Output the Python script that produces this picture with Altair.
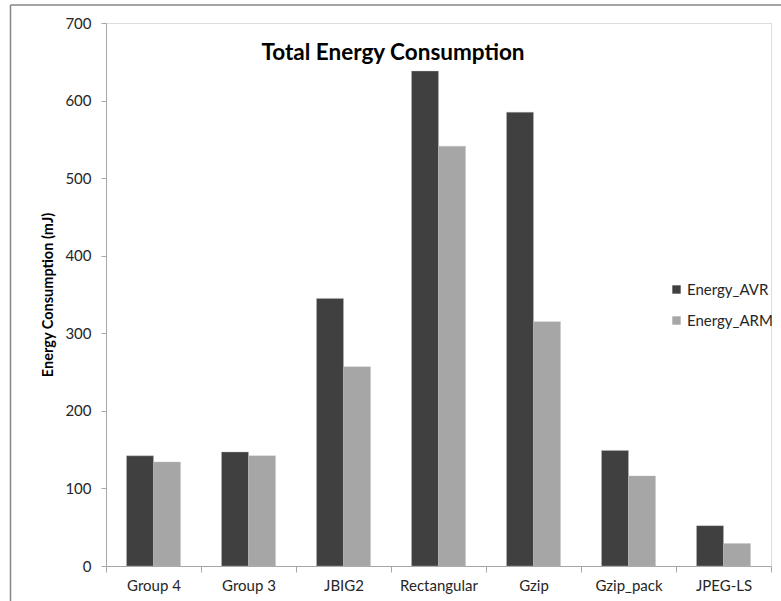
import altair as alt
import pandas as pd

# Algorithms compared and their total energy (mJ) on each platform
algorithms = ["Group 4", "Group 3", "JBIG2", "Rectangular", "Gzip", "Gzip_pack", "JPEG-LS"]
energy_avr = [142, 147, 345, 638, 585, 149, 52]
energy_arm = [134, 142, 257, 541, 315, 116, 29]
series = ["Energy_AVR", "Energy_ARM"]
series_colors = ["#404040", "#a6a6a6"]

rows = []
for i, name in enumerate(algorithms):
    rows.append({"algorithm": name, "series": series[0], "value": energy_avr[i]})
    rows.append({"algorithm": name, "series": series[1], "value": energy_arm[i]})
df = pd.DataFrame(rows)

FONT = "Lato"
AXIS_GRAY = "#a6a6a6"
TEXT = "#262626"

bars = alt.Chart(df).mark_bar(stroke="#bfbfbf", strokeWidth=0.6, strokeOpacity=0.6).encode(
    x=alt.X(
        "algorithm:N",
        sort=algorithms,
        scale=alt.Scale(paddingInner=0, paddingOuter=0),
        axis=alt.Axis(
            title=None, labelAngle=0, tickBand="extent", domainColor=AXIS_GRAY,
            tickColor=AXIS_GRAY, tickSize=6, labelFont=FONT, labelFontSize=15,
            labelColor=TEXT, labelPadding=6,
        ),
    ),
    xOffset=alt.XOffset(
        "series:N", sort=series,
        scale=alt.Scale(paddingInner=0, paddingOuter=0.76),
    ),
    y=alt.Y(
        "value:Q",
        scale=alt.Scale(domain=[0, 700], nice=False),
        axis=alt.Axis(
            values=list(range(0, 701, 100)), title="Energy Consumption (mJ)",
            grid=False, domainColor=AXIS_GRAY, tickColor=AXIS_GRAY, tickSize=5,
            labelFont=FONT, labelFontSize=15, labelColor=TEXT, labelPadding=10,
            titleFont=FONT, titleFontSize=14.5, titleFontWeight="bold",
            titleColor="#000000", titlePadding=9,
        ),
    ),
    color=alt.Color(
        "series:N", sort=series,
        scale=alt.Scale(domain=series, range=series_colors),
        legend=alt.Legend(
            title=None, orient="none", legendX=563, legendY=259,
            symbolType="square", symbolSize=70, symbolStrokeWidth=0,
            labelFont=FONT, labelFontSize=15, labelColor=TEXT,
            rowPadding=15, labelOffset=3,
        ),
    ),
)

title = alt.Chart(pd.DataFrame({"t": ["Total Energy Consumption"]})).mark_text(
    font=FONT, fontSize=22.5, fontWeight="bold", color="#000000", align="center",
    baseline="middle",
).encode(x=alt.value(287), y=alt.value(30), text="t:N")

# Outer frame of the chart area
frame_left = alt.Chart().mark_rule(color="#868686", strokeWidth=1.5).encode(
    x=alt.value(-95.5), y=alt.value(-18), y2=alt.value(600)
)
frame_top = alt.Chart().mark_rule(color="#868686", strokeWidth=1.5).encode(
    x=alt.value(-95.5), x2=alt.value(700), y=alt.value(-18)
)

chart = alt.layer(frame_left, frame_top, bars, title).properties(
    width=665, height=543,
    autosize=alt.AutoSizeParams(type="none"),
    padding={"left": 106, "top": 23, "right": 10, "bottom": 35},
).configure_view(stroke=None).configure(background="white")

chart.save("out.html", embed_options={"renderer": "svg", "actions": False})
